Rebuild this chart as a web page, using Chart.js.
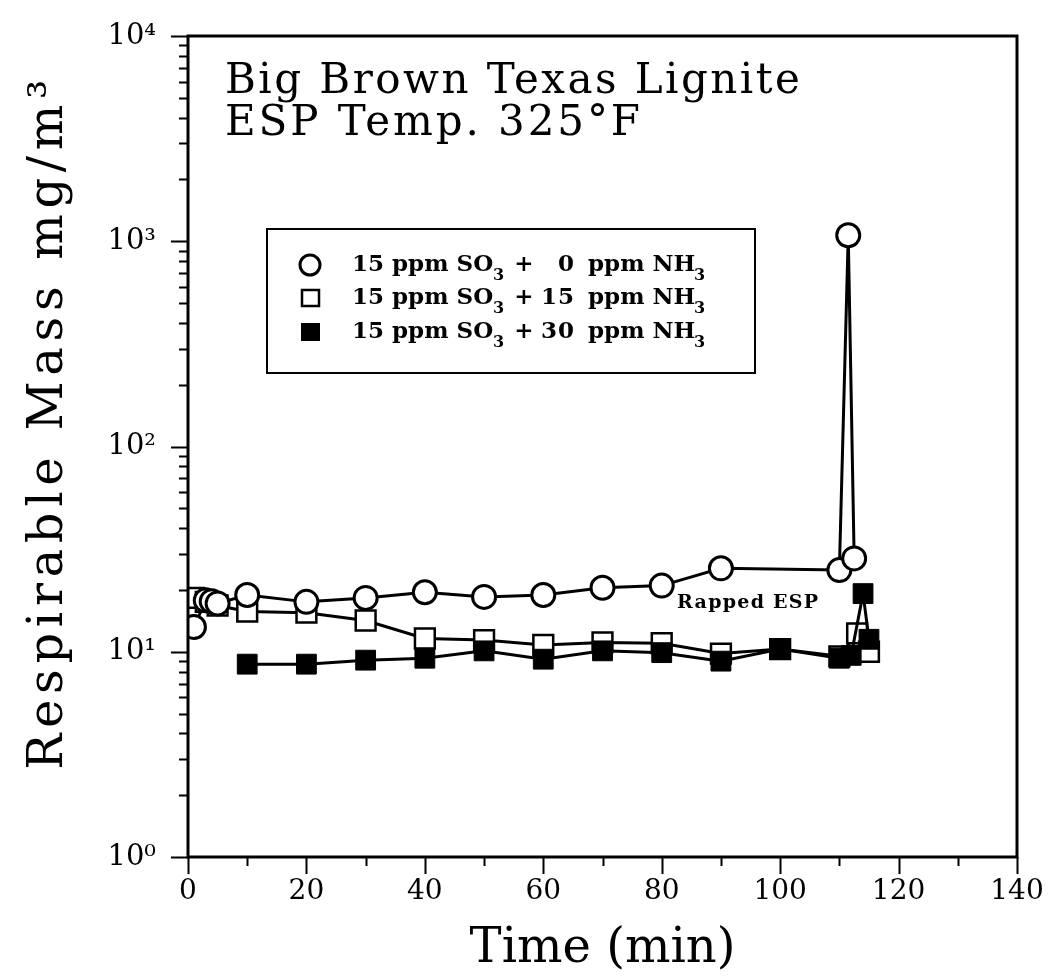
<!DOCTYPE html>
<html>
<head>
<meta charset="utf-8">
<script src="https://cdn.jsdelivr.net/npm/chart.js@4.4.1/dist/chart.umd.min.js"></script>
<style>
html,body{margin:0;padding:0;background:#fff;}
#wrap{width:1048px;height:978px;position:relative;}
</style>
</head>
<body>
<div id="wrap"><canvas id="c"></canvas></div>
<script>
// ---- data ----
const seriesNames = ['15 ppm SO3 +  0 ppm NH3', '15 ppm SO3 + 15 ppm NH3', '15 ppm SO3 + 30 ppm NH3'];
const circleTime = [1, 3, 4, 5, 10, 20, 30, 40, 50, 60, 70, 80, 90, 110, 111.5, 112.5];
const circleMass = [13.2, 17.8, 17.6, 17.2, 18.9, 17.5, 18.3, 19.5, 18.5, 18.9, 20.5, 21.0, 25.5, 25.0, 1070, 28.5];
const openTime = [1, 3, 5, 10, 20, 30, 40, 50, 60, 70, 80, 90, 100, 110, 113, 115];
const openMass = [18.3, 17.5, 16.8, 15.7, 15.5, 14.2, 11.6, 11.4, 10.8, 11.1, 11.0, 9.8, 10.3, 9.5, 12.3, 10.0];
const filledTime = [10, 20, 30, 40, 50, 60, 70, 80, 90, 100, 110, 112, 114, 115];
const filledMass = [8.7, 8.7, 9.1, 9.3, 10.1, 9.2, 10.1, 9.9, 9.0, 10.3, 9.3, 9.6, 19.2, 11.5];
const xTickValues = [0, 20, 40, 60, 80, 100, 120, 140];
const yTickLabels = {1: '10\u2070', 10: '10\u00B9', 100: '10\u00B2', 1000: '10\u00B3', 10000: '10\u2074'};
const titleLines = ['Big Brown Texas Lignite', 'ESP Temp. 325\u00B0F'];
const xTitle = 'Time (min)';
const yTitle = 'Respirable Mass mg/m\u00B3';
const noteText = 'Rapped ESP';
const noteAt = {x: 82.6, y: 17.5};

const toPts = (xs, ys) => xs.map((v, i) => ({x: v, y: ys[i]}));
const SERIF = '"DejaVu Serif", serif';

function fitSpacing(ctx, text, target) {
  ctx.letterSpacing = '0px';
  const w = ctx.measureText(text).width;
  return Math.max(0, (target - w) / (text.length - 1));
}

const decor = {
  id: 'decor',
  afterDraw(chart) {
    const {ctx, chartArea: a, scales: {x, y}} = chart;
    ctx.save();
    ctx.strokeStyle = '#000';
    ctx.fillStyle = '#000';
    // frame
    ctx.lineWidth = 3;
    ctx.strokeRect(a.left, a.top, a.right - a.left, a.bottom - a.top);
    // x ticks
    ctx.lineWidth = 2;
    ctx.beginPath();
    for (let v = 0; v <= 140; v += 10) {
      const px = Math.round(x.getPixelForValue(v)) + 0.5;
      const len = v % 20 === 0 ? 17 : 9;
      ctx.moveTo(px, a.bottom); ctx.lineTo(px, a.bottom + len);
    }
    // y ticks
    for (let d = 0; d < 4; d++) {
      for (let m = 1; m <= 10; m++) {
        const v = m * Math.pow(10, d);
        const py = Math.round(y.getPixelForValue(v)) + 0.5;
        const len = (m === 1 || m === 10) ? 17 : 9;
        ctx.moveTo(a.left, py); ctx.lineTo(a.left - len, py);
      }
    }
    ctx.stroke();

    // y axis title (rotated)
    ctx.save();
    ctx.translate(62, 422);
    ctx.rotate(-Math.PI / 2);
    ctx.font = '48px ' + SERIF;
    ctx.letterSpacing = fitSpacing(ctx, yTitle, 690).toFixed(2) + 'px';
    ctx.textAlign = 'center';
    ctx.textBaseline = 'alphabetic';
    ctx.fillText(yTitle, 0, 0);
    ctx.restore();

    // title lines
    ctx.font = '42px ' + SERIF;
    ctx.textBaseline = 'alphabetic';
    ctx.textAlign = 'left';
    ctx.letterSpacing = fitSpacing(ctx, titleLines[0], 575).toFixed(2) + 'px';
    ctx.fillText(titleLines[0], 225, 93);
    ctx.letterSpacing = fitSpacing(ctx, titleLines[1], 415).toFixed(2) + 'px';
    ctx.fillText(titleLines[1], 225, 135);

    // note
    ctx.font = 'bold 19px ' + SERIF;
    ctx.letterSpacing = fitSpacing(ctx, noteText, 141).toFixed(2) + 'px';
    ctx.fillText(noteText, x.getPixelForValue(noteAt.x), y.getPixelForValue(noteAt.y) + 6);

    // legend box
    ctx.letterSpacing = '0px';
    ctx.lineWidth = 2;
    ctx.strokeRect(267, 229, 488, 144);
    const rows = [265, 298, 332];
    const nums = ['0', '15', '30'];
    rows.forEach((ry, i) => {
      ctx.lineWidth = 3;
      if (i === 0) {
        ctx.beginPath(); ctx.arc(310, ry, 10, 0, Math.PI * 2); ctx.fillStyle = '#fff'; ctx.fill(); ctx.stroke();
      } else if (i === 1) {
        ctx.lineWidth = 2.5; ctx.strokeRect(302, ry - 8, 17, 16);
      } else {
        ctx.fillStyle = '#000'; ctx.fillRect(301, ry - 9, 19, 18);
      }
      ctx.fillStyle = '#000';
      ctx.textBaseline = 'middle';
      ctx.font = 'bold 23px ' + SERIF;
      ctx.textAlign = 'left';
      ctx.letterSpacing = fitSpacing(ctx, '15 ppm SO', 138).toFixed(2) + 'px';
      ctx.fillText('15 ppm SO', 352, ry);
      ctx.font = 'bold 16px ' + SERIF;
      ctx.letterSpacing = '0px';
      ctx.fillText('3', 493, ry + 11);
      ctx.font = 'bold 23px ' + SERIF;
      ctx.textAlign = 'center';
      ctx.fillText('+', 524, ry);
      ctx.textAlign = 'right';
      ctx.letterSpacing = '1px';
      ctx.fillText(nums[i], 575, ry);
      ctx.textAlign = 'left';
      ctx.letterSpacing = fitSpacing(ctx, 'ppm NH', 103).toFixed(2) + 'px';
      ctx.fillText('ppm NH', 588, ry);
      ctx.font = 'bold 16px ' + SERIF;
      ctx.letterSpacing = '0px';
      ctx.fillText('3', 694, ry + 11);
    });
    ctx.restore();
  }
};

Chart.defaults.font.family = SERIF;
Chart.defaults.color = '#000';

new Chart(document.getElementById('c'), {
  type: 'scatter',
  data: {
    datasets: [
      {label: seriesNames[0], data: toPts(circleTime, circleMass), showLine: true, order: 0,
       borderColor: '#000', borderWidth: 3, pointStyle: 'circle', pointRadius: 11.5, pointHoverRadius: 11.5,
       pointBackgroundColor: '#fff', pointBorderColor: '#000', pointBorderWidth: 3},
      {label: seriesNames[1], data: toPts(openTime, openMass), showLine: true, order: 2,
       borderColor: '#000', borderWidth: 3, pointStyle: 'rect', pointRadius: 14, pointHoverRadius: 14,
       pointBackgroundColor: '#fff', pointBorderColor: '#000', pointBorderWidth: 2.5},
      {label: seriesNames[2], data: toPts(filledTime, filledMass), showLine: true, order: 1,
       borderColor: '#000', borderWidth: 3, pointStyle: 'rect', pointRadius: 14, pointHoverRadius: 14,
       pointBackgroundColor: '#000', pointBorderColor: '#000', pointBorderWidth: 1}
    ]
  },
  options: {
    responsive: true,
    maintainAspectRatio: false,
    devicePixelRatio: 1,
    animation: false,
    layout: {padding: {top: 36, right: 31, left: 0, bottom: 0}},
    plugins: {legend: {display: false}, tooltip: {enabled: false}},
    scales: {
      x: {
        type: 'linear', min: 0, max: 140,
        afterFit: s => { s.height = 121; s.paddingLeft = 0; s.paddingRight = 0; },
        afterBuildTicks: s => { s.ticks = xTickValues.map(v => ({value: v})); },
        grid: {display: false, drawTicks: false},
        border: {display: false},
        ticks: {font: {size: 28}, padding: 18, maxRotation: 0},
        title: {display: true, text: xTitle, font: {size: 48}, padding: {top: 0, bottom: 0}}
      },
      y: {
        type: 'logarithmic', min: 1, max: 10000,
        afterFit: s => { s.width = 188; s.paddingTop = 0; s.paddingBottom = 0; },
        grid: {display: false, drawTicks: false},
        border: {display: false},
        ticks: {autoSkip: false, font: {size: 29}, padding: 32,
          callback: v => yTickLabels[v] || ''},
        title: {display: false}
      }
    }
  },
  plugins: [decor]
});
</script>
</body>
</html>
